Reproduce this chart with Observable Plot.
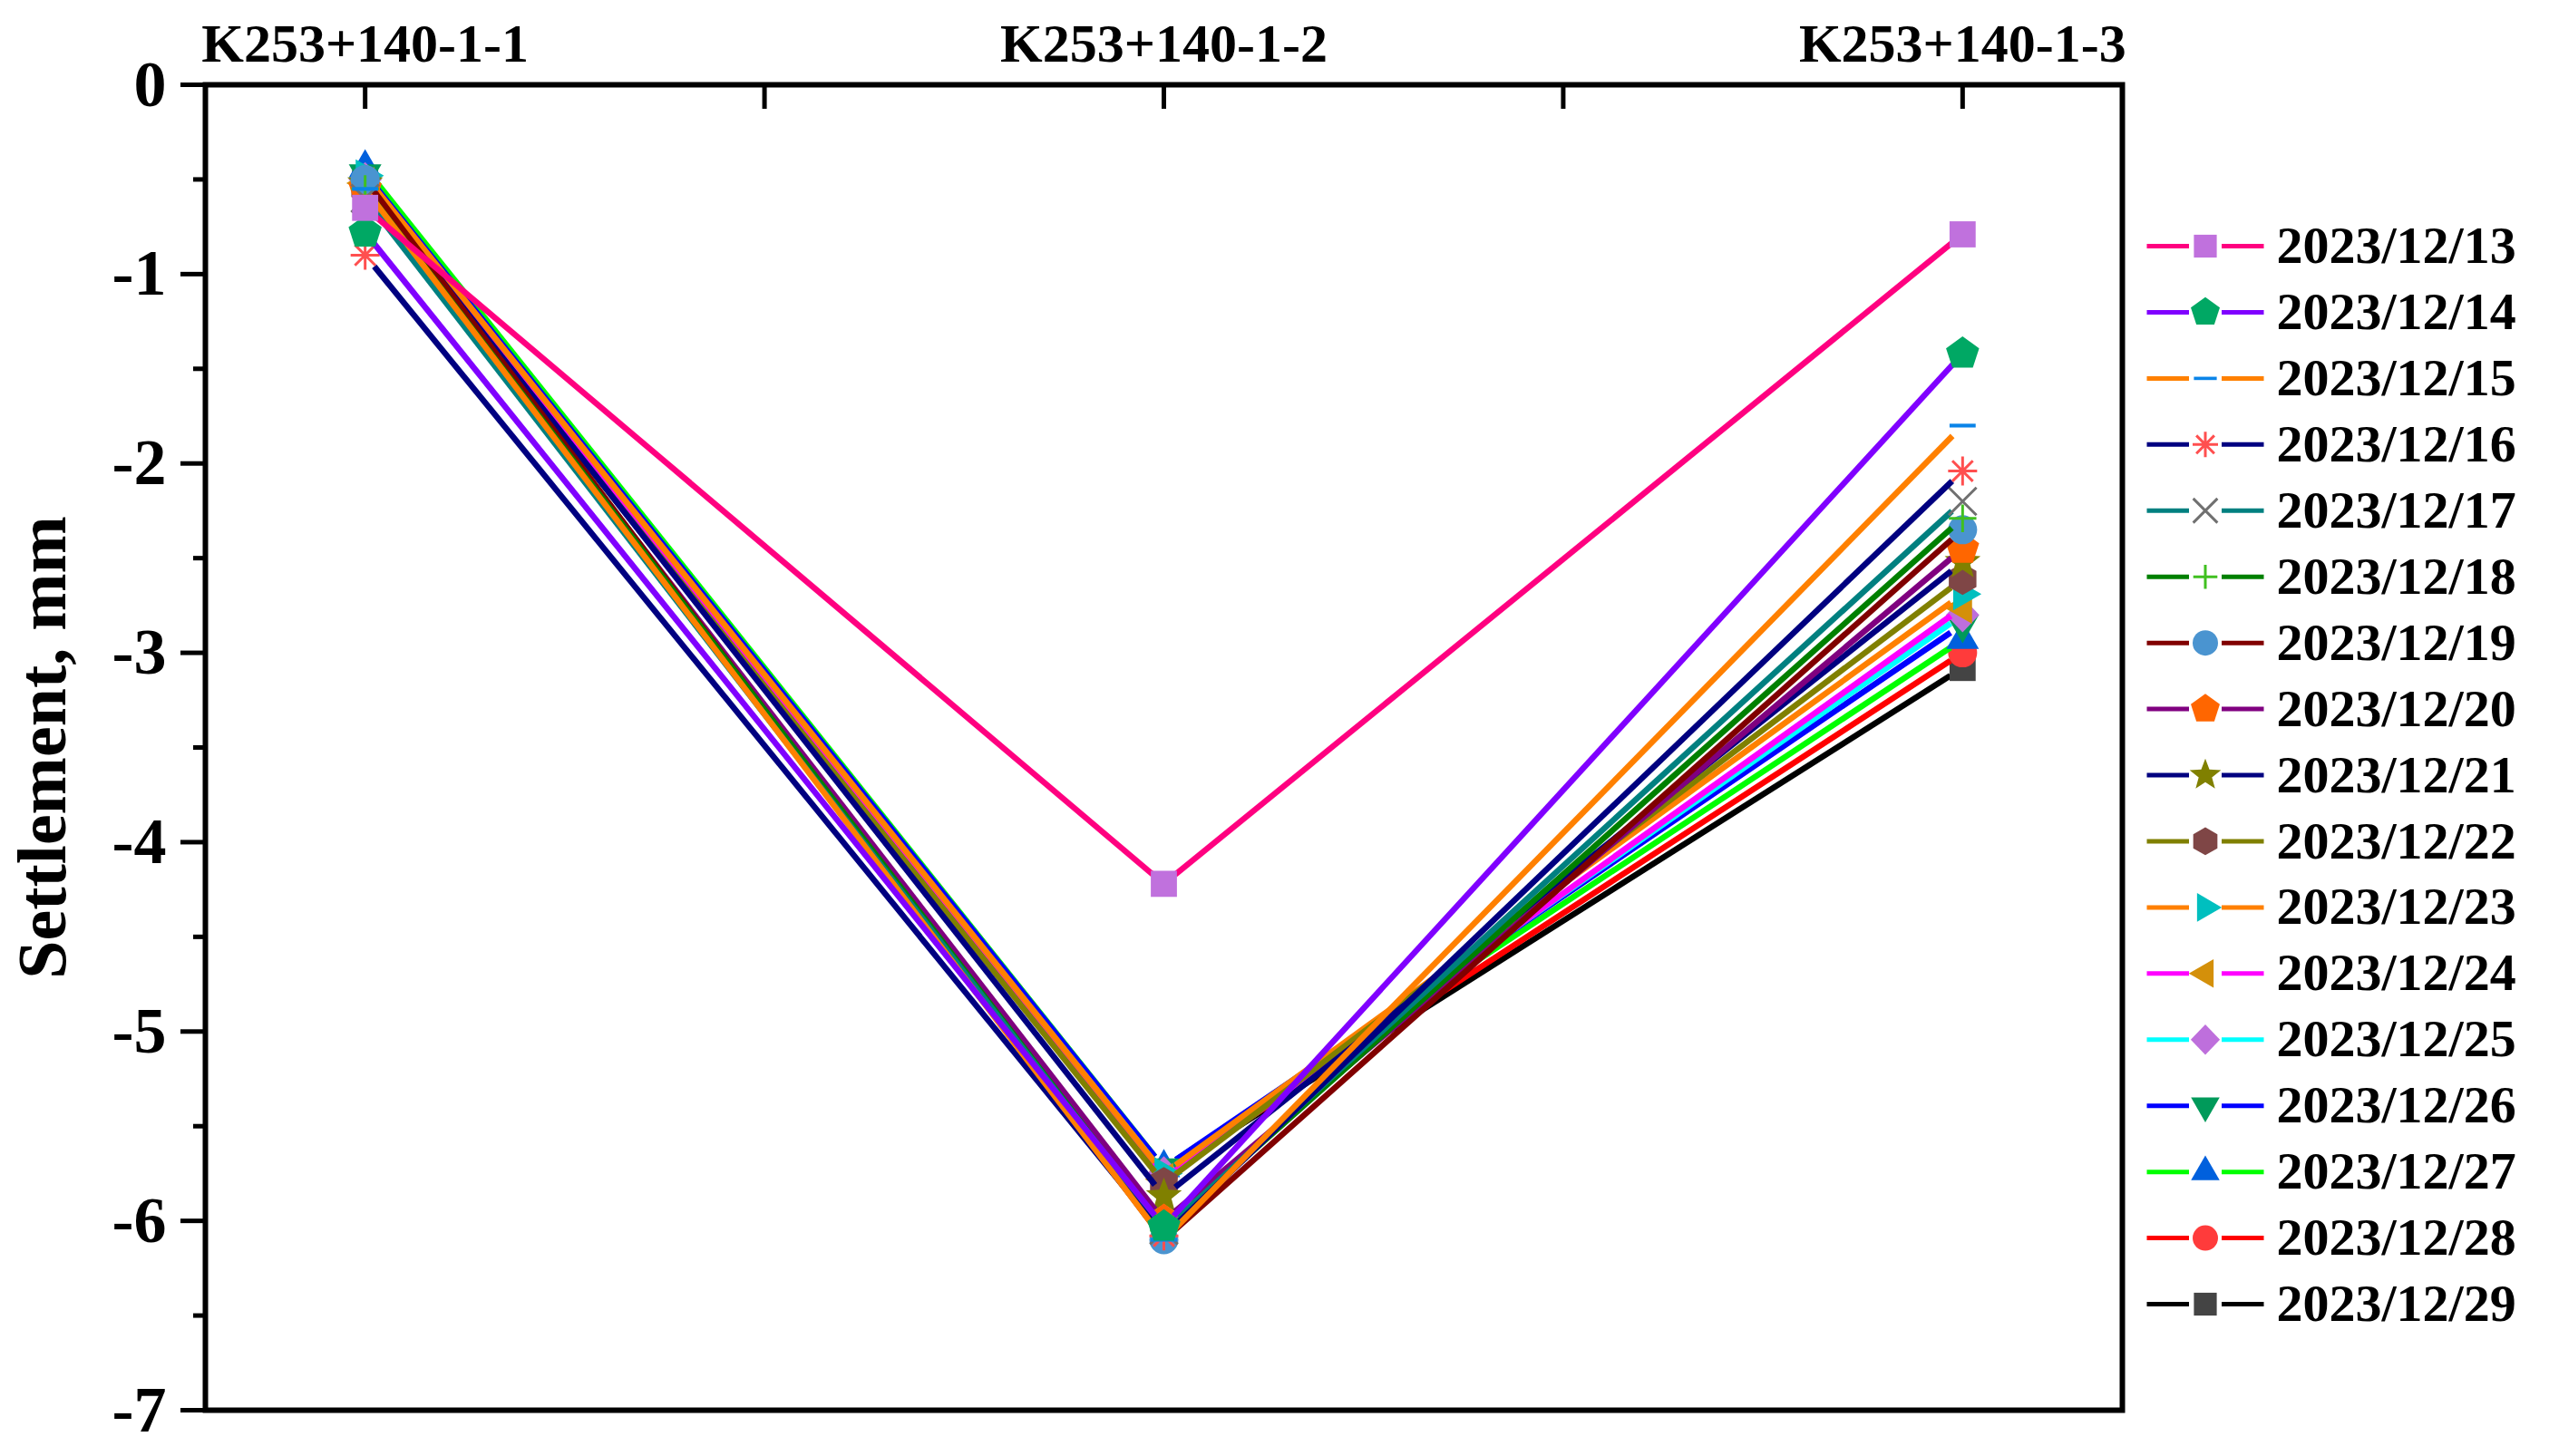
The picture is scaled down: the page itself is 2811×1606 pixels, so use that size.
<!DOCTYPE html>
<html><head><meta charset="utf-8">
<script src="https://cdn.jsdelivr.net/npm/d3@7"></script>
<script src="https://cdn.jsdelivr.net/npm/@observablehq/plot@0.6"></script>
<style>
html,body{margin:0;padding:0;background:#fff;}
#wrap{position:relative;width:2811px;height:1606px;overflow:hidden;}
#legend{position:absolute;left:2330px;top:0;}
svg{display:block;}
</style></head>
<body><div id="wrap"><div id="main"></div><div id="legend"></div></div>
<script>
// ---------- data ----------
const categories = ["K253+140-1-1", "K253+140-1-2", "K253+140-1-3"];
const dates = ["2023/12/13","2023/12/14","2023/12/15","2023/12/16","2023/12/17","2023/12/18",
  "2023/12/19","2023/12/20","2023/12/21","2023/12/22","2023/12/23","2023/12/24",
  "2023/12/25","2023/12/26","2023/12/27","2023/12/28","2023/12/29"];
const point1 = [-0.65,-0.78,-0.55,-0.90,-0.60,-0.55,-0.50,-0.55,-0.52,-0.55,-0.48,-0.52,-0.50,-0.47,-0.44,-0.50,-0.52];
const point2 = [-4.22,-6.03,-6.10,-6.08,-6.05,-6.05,-6.10,-6.00,-5.87,-5.80,-5.75,-5.78,-5.75,-5.72,-5.72,-5.75,-5.75];
const point3 = [-0.79,-1.42,-1.80,-2.04,-2.20,-2.29,-2.35,-2.45,-2.52,-2.61,-2.69,-2.76,-2.80,-2.85,-2.93,-3.00,-3.08];
const yTicks = [0,-1,-2,-3,-4,-5,-6,-7];
const yMinorTicks = [-0.5,-1.5,-2.5,-3.5,-4.5,-5.5,-6.5];
const xTicks = [1,1.5,2,2.5,3];
const yTitle = "Settlement, mm";

// ---------- styles ----------
const lineColors = ["#FF0080","#8000FF","#FF8000","#000080","#008080","#008000","#800000","#800080",
  "#000080","#808000","#FF8000","#FF00FF","#00FFFF","#0000FF","#00FF00","#FF0000","#000000"];
const markerColors = ["#C071DD","#00A864","#0A84E8","#FF4F4F","#707070","#40C020","#4A94D0","#FF6600",
  "#808000","#7F4646","#00BFBF","#D4900A","#BE6FDC","#009A5A","#0060DD","#FF3B3B","#444444"];
const markerShapes = ["square","pentagon","dash","asterisk8","times","plus","sphere","pentagon",
  "star","hexagon","triRight","triLeft","diamond","triDown","triUp","circle","square"];
const strokeShapes = new Set(["asterisk8","times","plus"]);

function polySym(pts){return {draw(ctx,size){const r=Math.sqrt(size/Math.PI);
  pts.forEach(([a,b],i)=> i?ctx.lineTo(a*r,b*r):ctx.moveTo(a*r,b*r)); ctx.closePath();}};}
function regular(n,k,rot=0){return polySym(d3.range(n).map(i=>{const a=rot+2*Math.PI*i/n;return [k*Math.sin(a),-k*Math.cos(a)];}));}
function lines(angles,k){return {draw(ctx,size){const r=Math.sqrt(size/Math.PI)*k;
  for(const a of angles){ctx.moveTo(-r*Math.cos(a),-r*Math.sin(a));ctx.lineTo(r*Math.cos(a),r*Math.sin(a));}}};}
const circleSym = k => ({draw(ctx,size){const r=Math.sqrt(size/Math.PI)*k;ctx.moveTo(r,0);ctx.arc(0,0,r,0,2*Math.PI);}});
const SYM = {
  square: polySym([[-.9,-.9],[.9,-.9],[.9,.9],[-.9,.9]]),
  pentagon: regular(5,1.2),
  dash: polySym([[-.9,-.13],[.9,-.13],[.9,.13],[-.9,.13]]),
  asterisk8: lines([0,Math.PI/4,Math.PI/2,3*Math.PI/4],1.0),
  times: lines([Math.PI/4,3*Math.PI/4],1.35),
  plus: lines([0,Math.PI/2],0.95),
  sphere: circleSym(1.0),
  star: polySym(d3.range(10).map(i=>{const a=Math.PI*i/5;const k=i%2?0.55:1.3;return [k*Math.sin(a),-k*Math.cos(a)];})),
  hexagon: regular(6,1.1),
  triRight: regular(3,1.3,Math.PI/2),
  triLeft: regular(3,1.3,-Math.PI/2),
  triDown: regular(3,1.3,Math.PI),
  triUp: regular(3,1.3,0),
  diamond: polySym([[0,-1.2],[1.15,0],[0,1.2],[-1.15,0]]),
  circle: circleSym(1.0)
};
function symOpts(s){
  const shape = markerShapes[s];
  return strokeShapes.has(shape)
    ? {symbol: SYM[shape], fill: "none", stroke: markerColors[s], strokeWidth: 3}
    : {symbol: SYM[shape], fill: markerColors[s], stroke: "none"};
}

const FONT = '"Liberation Serif","Times New Roman",serif';

// ---------- main chart ----------
// series drawn last-to-first so the earliest dates sit on top, as in the original
const seriesMarks = [];
d3.range(dates.length - 1, -1, -1).forEach(s => {
  const vals = [point1[s], point2[s], point3[s]];
  const pts = vals.map((v, i) => ({x: i + 1, y: v}));
  const segs = [0, 1].map(i => ({x1: i + 1, y1: vals[i], x2: i + 2, y2: vals[i + 1]}));
  seriesMarks.push(Plot.arrow(segs, {x1: "x1", y1: "y1", x2: "x2", y2: "y2", bend: 0, headLength: 0,
    insetStart: 16, insetEnd: 16, stroke: lineColors[s], strokeWidth: 6.5, strokeLinecap: "butt"}));
  seriesMarks.push(Plot.dot(pts, {x: "x", y: "y", r: 16, ...symOpts(s)}));
});

const main = Plot.plot({
  width: 2811, height: 1606,
  marginLeft: 226, marginRight: 471, marginTop: 93, marginBottom: 51,
  x: {domain: [0.8, 3.2], axis: null},
  y: {domain: [-7, 0], axis: null},
  style: {fontFamily: FONT, fontWeight: "bold", color: "black", background: "white", overflow: "visible"},
  marks: [
    ...seriesMarks,
    Plot.frame({stroke: "black", strokeWidth: 6}),
    Plot.axisY({ticks: yTicks, tickSize: 27, tickPadding: 16, tickFormat: d => `${d}`, fontSize: 72,
      fontWeight: "bold", strokeWidth: 5, label: null}),
    Plot.axisY({ticks: [], tickSize: 0, label: yTitle, labelArrow: "none", labelAnchor: "center",
      labelOffset: 208, fontSize: 76, fontWeight: "bold"}),
    Plot.axisY({ticks: yMinorTicks, tickSize: 13, text: null, label: null, strokeWidth: 5}),
    Plot.axisX({anchor: "top", ticks: [1, 2, 3], tickSize: 0, tickPadding: 26, tickFormat: i => categories[i - 1],
      fontSize: 60, fontWeight: "bold", label: null}),
    Plot.axisX({anchor: "top", ticks: xTicks, tickSize: -26, text: null, label: null, strokeWidth: 5})
  ]
});
document.getElementById("main").appendChild(main);

// ---------- legend ----------
const rows = dates.map((d, i) => ({date: d, i}));
const legendMarks = [
  Plot.arrow(rows, {x1: 0, x2: 0.5, y1: "i", y2: "i", bend: 0, headLength: 0, insetEnd: 18,
    stroke: d => lineColors[d.i], strokeWidth: 5, strokeLinecap: "butt"}),
  Plot.arrow(rows, {x1: 0.5, x2: 1, y1: "i", y2: "i", bend: 0, headLength: 0, insetStart: 18,
    stroke: d => lineColors[d.i], strokeWidth: 5, strokeLinecap: "butt"})
];
rows.forEach(r => legendMarks.push(Plot.dot([r], {x: 0.5, y: "i", r: 14, ...symOpts(r.i)})));
legendMarks.push(Plot.text(rows, {x: 1, y: "i", text: "date", textAnchor: "start", dx: 14, fontSize: 58,
  fontWeight: "bold", fill: "black"}));

const legend = Plot.plot({
  width: 481, height: 1606, margin: 0,
  x: {domain: [0, 1], range: [37, 166], axis: null},
  y: {domain: [0, 16], range: [271, 1438], axis: null},
  color: {type: "identity"},
  style: {fontFamily: FONT, fontWeight: "bold", background: "transparent", overflow: "visible"},
  marks: legendMarks
});
document.getElementById("legend").appendChild(legend);
</script>
</body></html>
